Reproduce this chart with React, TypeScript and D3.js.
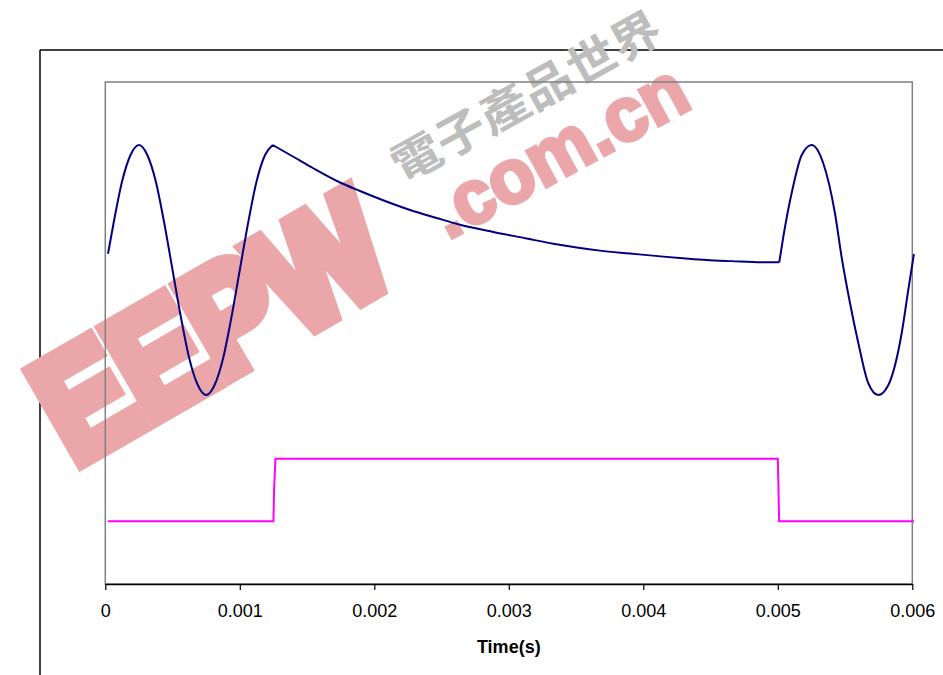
import React, { useEffect, useRef } from "react";
import * as d3 from "d3";

// ---- data ----
const xTicks = [0, 0.001, 0.002, 0.003, 0.004, 0.005, 0.006];
const xTickLabels = ["0", "0.001", "0.002", "0.003", "0.004", "0.005", "0.006"];
const xTitle = "Time(s)";

// blue trace: time (s)
const blueTime = [
  0.00002, 0.0000625, 0.000125, 0.0001875, 0.00025, 0.0003125, 0.000375, 0.0004375,
  0.0005, 0.0005625, 0.000625, 0.0006875, 0.00075, 0.0008125, 0.000875, 0.0009375,
  0.001, 0.0010625, 0.001125, 0.0011875, 0.001245,
  0.001398, 0.001546, 0.001745, 0.001894, 0.00208, 0.002266, 0.002464, 0.002637,
  0.002885, 0.003133, 0.003331, 0.003505, 0.003678, 0.003901, 0.004149, 0.004297,
  0.004471, 0.004657, 0.00488, 0.005011,
  0.005041, 0.005108, 0.005178, 0.005252, 0.005338, 0.005425, 0.005475, 0.005537,
  0.005599, 0.005673, 0.005747, 0.005822, 0.005921, 0.00597, 0.006012,
];
// blue trace: amplitude (arb. units)
const blueValue = [
  0.13, 0.38, 0.71, 0.92, 1.0, 0.92, 0.71, 0.38,
  0.0, -0.38, -0.71, -0.92, -1.0, -0.92, -0.71, -0.38,
  0.0, 0.38, 0.71, 0.92, 1.0,
  0.906, 0.814, 0.7, 0.632, 0.552, 0.48, 0.416, 0.362,
  0.304, 0.252, 0.21, 0.18, 0.155, 0.132, 0.107, 0.094,
  0.08, 0.071, 0.062, 0.062,
  0.266, 0.64, 0.92, 1.0, 0.854, 0.454, 0.1, -0.266,
  -0.586, -0.906, -1.0, -0.92, -0.506, -0.16, 0.128,
];
// index ranges of the blue trace: [first sine burst, decay, second burst]
const blueSegments = [
  { from: 0, to: 20 },
  { from: 20, to: 40 },
  { from: 40, to: 55 },
];

// magenta gate signal
const gateTime = [0.00002, 0.00125, 0.001255, 0.001265, 0.005, 0.005005, 0.00501, 0.006012];
const gateValue = [-2.01, -2.01, -1.75, -1.51, -1.51, -1.75, -2.01, -2.01];

// watermark texts
const wmLogo = "EEPW";
const wmDomain = ".com.cn";
const wmChinese = "電子產品世界";

export default function App() {
  const axisRef = useRef<SVGGElement>(null);

  const W = 943;
  const H = 675;
  const left = 105.3;
  const right = 912.3;
  const top = 82;
  const bottom = 584;

  const x = d3.scaleLinear().domain([0, 0.006]).range([left, right]);
  const y = d3.scaleLinear().domain([-2.512, 1.504]).range([bottom, top]);

  const bluePts: [number, number][] = blueTime.map((t, i) => [t, blueValue[i]]);
  const gatePts: [number, number][] = gateTime.map((t, i) => [t, gateValue[i]]);

  const smoothLine = d3
    .line<[number, number]>()
    .x((d) => x(d[0]))
    .y((d) => y(d[1]))
    .curve(d3.curveMonotoneX);
  const straightLine = d3
    .line<[number, number]>()
    .x((d) => x(d[0]))
    .y((d) => y(d[1]));

  const blueD = blueSegments
    .map((s) => smoothLine(bluePts.slice(s.from, s.to + 1)) || "")
    .join(" ");

  useEffect(() => {
    if (!axisRef.current) return;
    const g = d3.select(axisRef.current);
    g.selectAll("*").remove();
    const axis = d3
      .axisBottom(x)
      .tickValues(xTicks)
      .tickFormat((_d, i) => xTickLabels[i])
      .tickSizeInner(6)
      .tickSizeOuter(0)
      .tickPadding(14);
    g.call(axis as any);
    g.select(".domain").attr("stroke", "#000").attr("stroke-width", 1.5);
    g.selectAll(".tick line").attr("stroke", "#000").attr("stroke-width", 1.2);
    g.selectAll(".tick text")
      .attr("fill", "#000")
      .attr("font-size", 18)
      .attr("font-family", "'Liberation Sans', Arial, sans-serif");
  }, []);

  return (
    <svg
      width={W}
      height={H}
      style={{ position: "absolute", left: 0, top: 0, background: "#fff" }}
      xmlns="http://www.w3.org/2000/svg"
    >
      <rect x={0} y={0} width={W} height={H} fill="#fff" />
      {/* outer chart frame */}
      <line x1={40} y1={50} x2={W + 5} y2={50} stroke="#000" strokeWidth={1.5} />
      <line x1={40} y1={50} x2={40} y2={H + 5} stroke="#000" strokeWidth={1.5} />

      {/* watermark */}
      <g fontFamily="'Liberation Sans', Arial, sans-serif" fontWeight="bold">
        <text
          transform="translate(74,466) rotate(-30)"
          fontSize={150}
          fill="#eaa6a8"
          stroke="#eaa6a8"
          strokeWidth={16}
          strokeLinejoin="miter"
          textLength={376}
          lengthAdjust="spacingAndGlyphs"
        >
          {wmLogo}
        </text>
        <text
          transform="translate(448,240) rotate(-28.5)"
          fontSize={76}
          fill="#eaa6a8"
          stroke="#eaa6a8"
          strokeWidth={4}
          textLength={280}
          lengthAdjust="spacingAndGlyphs"
        >
          {wmDomain}
        </text>
        <text
          transform="translate(403,184) rotate(-29)"
          fontSize={46}
          fill="#bdbdbd"
          fontFamily="'Noto Sans CJK TC', sans-serif"
          textLength={300}
          lengthAdjust="spacingAndGlyphs"
        >
          {wmChinese}
        </text>
      </g>

      {/* plot area border */}
      <rect
        x={left}
        y={top}
        width={right - left}
        height={bottom - top}
        fill="none"
        stroke="#808080"
        strokeWidth={1.5}
      />

      {/* series */}
      <path d={straightLine(gatePts) || ""} fill="none" stroke="#ff00ff" strokeWidth={2} />
      <path d={blueD} fill="none" stroke="#000080" strokeWidth={2} strokeLinejoin="round" />

      {/* x axis */}
      <g ref={axisRef} transform={`translate(0,${bottom})`} />
      <text
        x={(left + right) / 2}
        y={653}
        textAnchor="middle"
        fontSize={18}
        fontWeight="bold"
        fontFamily="'Liberation Sans', Arial, sans-serif"
      >
        {xTitle}
      </text>
    </svg>
  );
}
